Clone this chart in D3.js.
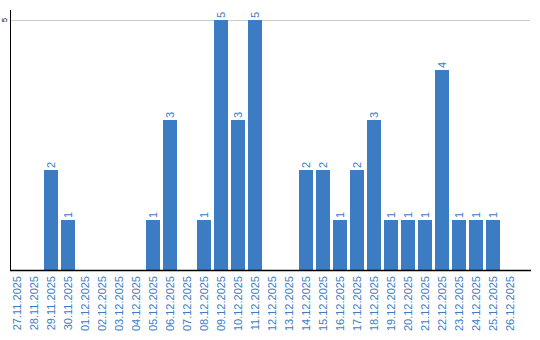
<!DOCTYPE html>
<html>
<head>
<meta charset="utf-8">
<script src="https://cdn.jsdelivr.net/npm/d3@7"></script>
<style>
  body { margin: 0; background: #fff; }
  svg { display: block; font-family: "Liberation Sans", Arial, sans-serif; }
</style>
</head>
<body>
<div id="chart"></div>
<script>
const dates = ["27.11.2025", "28.11.2025", "29.11.2025", "30.11.2025", "01.12.2025", "02.12.2025",
    "03.12.2025", "04.12.2025", "05.12.2025", "06.12.2025", "07.12.2025", "08.12.2025",
    "09.12.2025", "10.12.2025", "11.12.2025", "12.12.2025", "13.12.2025", "14.12.2025",
    "15.12.2025", "16.12.2025", "17.12.2025", "18.12.2025", "19.12.2025", "20.12.2025",
    "21.12.2025", "22.12.2025", "23.12.2025", "24.12.2025", "25.12.2025", "26.12.2025"];
const counts = [0, 0, 2, 1, 0, 0, 0, 0, 1, 3, 0, 1, 5, 3, 5, 0, 0, 2, 2, 1, 2, 3, 1, 1, 1, 4, 1, 1, 1, 0];
const yTicks = [5];

const width = 540, height = 340;
const blue = "#3b7cc3";

const svg = d3.select("#chart").append("svg")
    .attr("width", width)
    .attr("height", height);

const x = d3.scaleBand()
    .domain(dates)
    .range([8.5, 518.5])
    .paddingInner(3 / 17)
    .paddingOuter(1.5 / 17);

const y = d3.scaleLinear()
    .domain([0, 5.2])
    .range([270, 10]);

// grid
svg.append("g")
    .selectAll("line")
    .data(yTicks)
    .join("line")
    .attr("x1", 11).attr("x2", 530)
    .attr("y1", d => Math.round(y(d)) + 0.5)
    .attr("y2", d => Math.round(y(d)) + 0.5)
    .attr("stroke", "#cccccc");

// y tick labels
svg.append("g")
    .selectAll("text")
    .data(yTicks)
    .join("text")
    .attr("transform", d => `translate(7,${y(d)}) rotate(-90)`)
    .attr("text-anchor", "middle")
    .attr("font-size", 8)
    .attr("fill", "#000")
    .text(d => d);

// bars
const data = dates.map((d, i) => ({ date: d, value: counts[i] }));

svg.append("g")
    .selectAll("rect")
    .data(data.filter(d => d.value > 0))
    .join("rect")
    .attr("x", d => x(d.date))
    .attr("y", d => y(d.value))
    .attr("width", x.bandwidth())
    .attr("height", d => y(0) - y(d.value))
    .attr("fill", blue);

// value labels
svg.append("g")
    .selectAll("text")
    .data(data.filter(d => d.value > 0))
    .join("text")
    .attr("transform", d => `translate(${x(d.date) + x.bandwidth() / 2 + 4},${y(d.value) - 2}) rotate(-90)`)
    .attr("font-size", 11)
    .attr("fill", blue)
    .text(d => d.value);

// axes lines
svg.append("line")
    .attr("x1", 10.5).attr("x2", 10.5)
    .attr("y1", 10).attr("y2", 270)
    .attr("stroke", "#000");
svg.append("line")
    .attr("x1", 10).attr("x2", 531)
    .attr("y1", 270.5).attr("y2", 270.5)
    .attr("stroke", "#000")
    .attr("stroke-width", 1.5);

// x labels
svg.append("g")
    .selectAll("text")
    .data(dates)
    .join("text")
    .attr("transform", d => `translate(${x(d) + x.bandwidth() / 2 + 4},276) rotate(-90)`)
    .attr("text-anchor", "end")
    .attr("font-size", 11)
    .attr("fill", blue)
    .text(d => d);
</script>
</body>
</html>
